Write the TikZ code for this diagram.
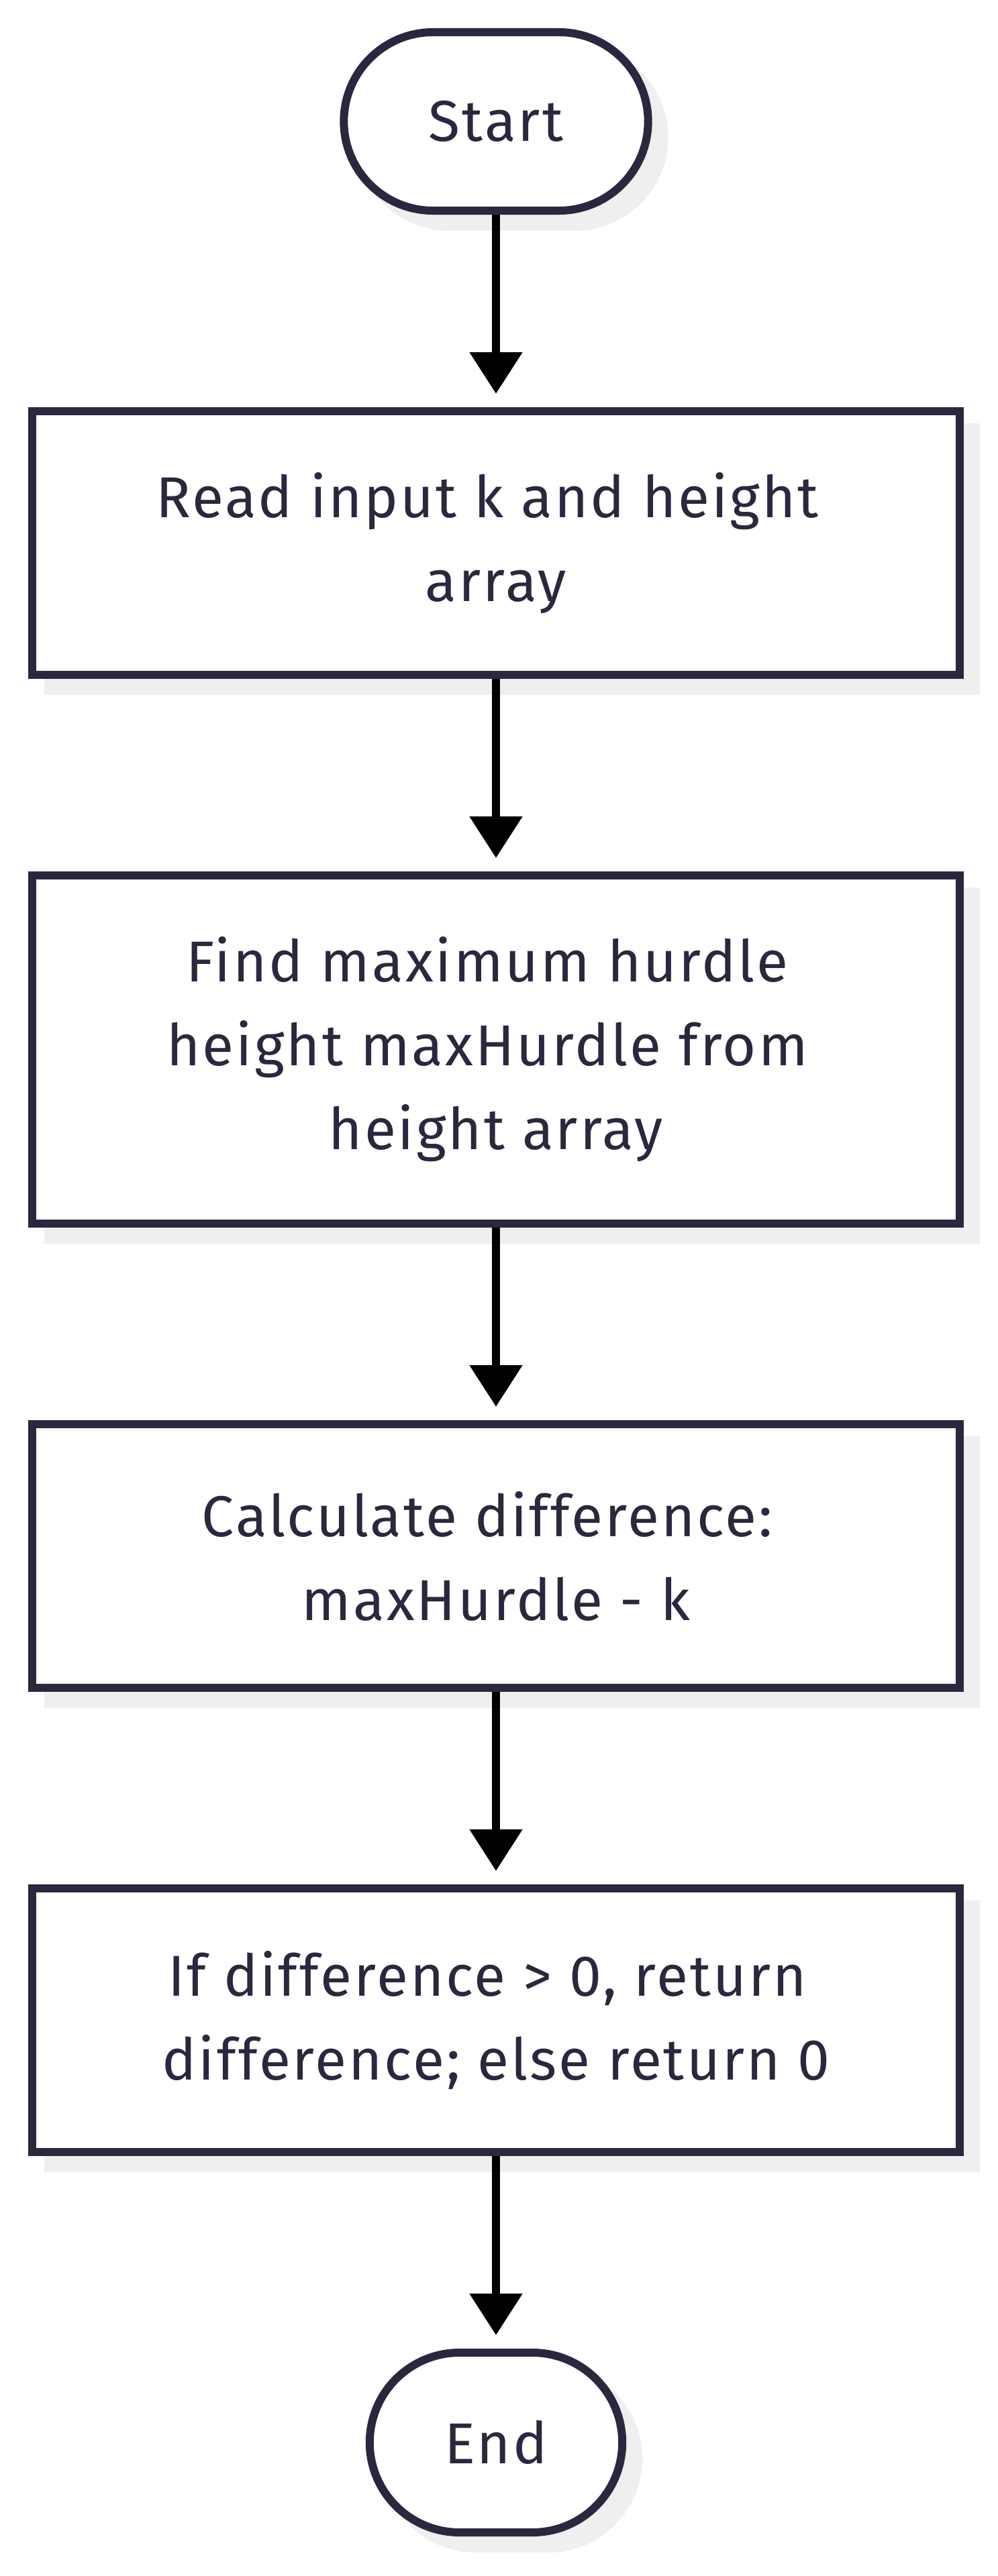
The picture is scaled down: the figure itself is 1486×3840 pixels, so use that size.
\documentclass[tikz,border=0pt]{standalone}
\usepackage{fontspec}
\setmainfont[LetterSpace=3.5]{Fira Sans}
\usetikzlibrary{positioning,shapes.misc,arrows.meta,shadows}
\definecolor{nodeline}{HTML}{29283E}
\definecolor{shadowgray}{HTML}{EFEFEF}
\newcommand{\wrapbreak}{\kern0.3em\\}
\tikzset{
  flowshadow/.style={drop shadow={shadow xshift=24pt,shadow yshift=-24pt,fill=shadowgray,draw=shadowgray,line width=12pt,opacity=1}},
  terminal/.style={rounded rectangle,draw=nodeline,line width=12pt,fill=white,text=nodeline,flowshadow},
  process/.style={rectangle,draw=nodeline,line width=12pt,fill=white,text=nodeline,align=center,
    minimum width=1382pt,minimum height=393pt,flowshadow},
  flow/.style={draw=black,line width=12pt,-{Triangle[width=76pt,length=62pt]},shorten >=20pt}
}
\begin{document}
\begin{tikzpicture}[node distance=287pt, font=\fontsize{86}{125}\selectfont]
    \useasboundingbox (0,0) rectangle (1486pt,-3840pt);
    %Start
    \node[terminal, minimum width=460pt, minimum height=266pt] (start) at (739pt,-181pt) {Start};
    %Read
    \node[process, below=of start] (read) {Read input k and height\wrapbreak array};
    %Max
    \node[process, below=of read, minimum height=519pt] (findmax) {Find maximum hurdle\wrapbreak height maxHurdle from\wrapbreak height array};
    %Difference
    \node[process, below=of findmax] (diff) {Calculate difference:\wrapbreak maxHurdle - k};
    %Return
    \node[process, below=of diff] (result) {If difference > 0, return\wrapbreak difference; else return 0};
    %End
    \node[terminal, below=of result, minimum width=383pt, minimum height=268pt] (stop) {End};
    %Arrows
    \draw[flow] (start.south) -- (read.north);
    \draw[flow] (read.south) -- (findmax.north);
    \draw[flow] (findmax.south) -- (diff.north);
    \draw[flow] (diff.south) -- (result.north);
    \draw[flow] (result.south) -- (stop.north);
\end{tikzpicture}
\end{document}
